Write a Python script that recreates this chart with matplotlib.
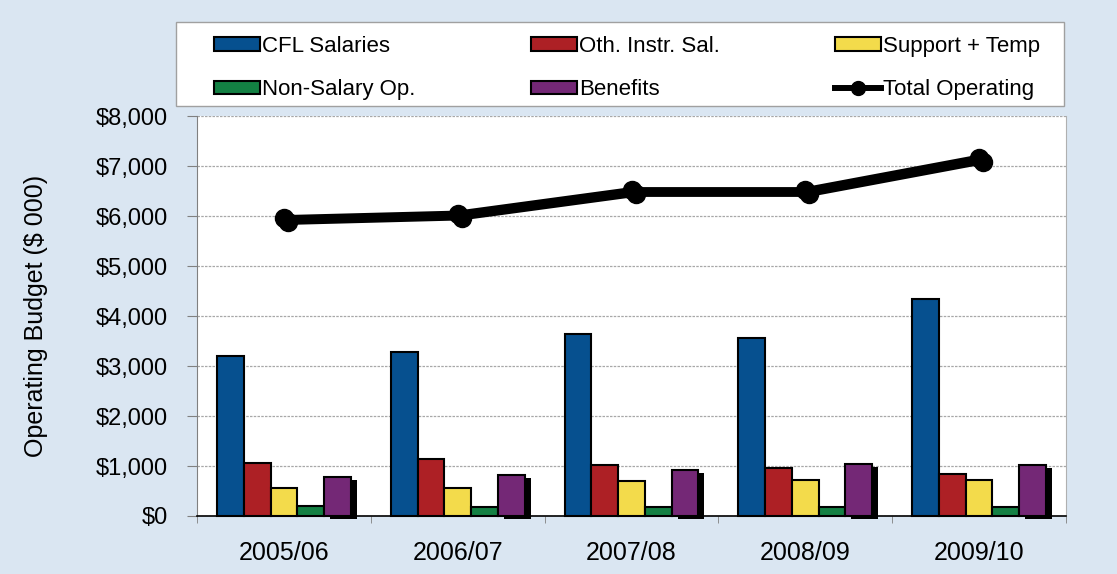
import matplotlib
matplotlib.use('Agg')
import matplotlib.pyplot as plt
import matplotlib.ticker as mtick
import matplotlib.patheffects as pe
import matplotlib.transforms as mtransforms
from matplotlib.patches import Rectangle
from matplotlib.lines import Line2D
import numpy as np

# data ($ 000)
years = ['2005/06', '2006/07', '2007/08', '2008/09', '2009/10']
cfl_salaries = [3200, 3280, 3650, 3570, 4350]
oth_instr_sal = [1070, 1140, 1020, 970, 850]
support_temp = [570, 570, 710, 720, 730]
non_salary_op = [210, 190, 190, 190, 190]
benefits = [790, 830, 930, 1050, 1020]
total_operating = [5960, 6050, 6520, 6520, 7170]

series_names = ['CFL Salaries', 'Oth. Instr. Sal.', 'Support + Temp',
                'Non-Salary Op.', 'Benefits']
series_vals = [cfl_salaries, oth_instr_sal, support_temp, non_salary_op, benefits]
colors = ['#06508F', '#AD2025', '#F3DB4B', '#138043', '#742876']

plt.rcParams['font.family'] = ['Liberation Sans', 'DejaVu Sans']

fig = plt.figure(figsize=(11.17, 5.74), dpi=100)
fig.patch.set_facecolor('#DAE6F2')

ax = fig.add_axes([197/1117, 1-516/574, (1066-197)/1117, 400/574])
ax.set_facecolor('white')

x = np.arange(len(years))
bw = 0.154
# only the last series (Benefits) throws a visible drop shadow
shadow = [pe.SimplePatchShadow(offset=(4.3, -2.2), shadow_rgbFace='black', alpha=1.0),
          pe.Normal()]
for i, (name, vals, c) in enumerate(zip(series_names, series_vals, colors)):
    bars = ax.bar(x + (i - 2) * bw, vals, width=bw, color=c, edgecolor='black',
                  linewidth=1.5, zorder=3 + i * 0.1, clip_on=False, label=name)
    if i == len(series_names) - 1:
        for b in bars:
            b.set_path_effects(shadow)

# total line with an offset black copy as its shadow
shadow_tr = mtransforms.offset_copy(ax.transData, fig=fig, x=4, y=-4, units='dots')
for tr, z in [(shadow_tr, 5.5), (ax.transData, 6)]:
    ax.plot(x, total_operating, color='black', lw=4.2, marker='o', markersize=13,
            zorder=z, clip_on=False, transform=tr)

ax.set_xlim(-0.5, len(years) - 0.5)
ax.set_ylim(0, 8000)
ax.yaxis.set_major_locator(mtick.MultipleLocator(1000))
ax.yaxis.set_major_formatter(mtick.StrMethodFormatter('${x:,.0f}'))
ax.grid(axis='y', color='#A8A8A8', lw=0.9, linestyle=(0, (2, 1)), zorder=0)

ax.set_xticks(x)
ax.set_xticklabels(years)
ax.set_xticks(np.arange(len(years) + 1) - 0.5, minor=True)
ax.tick_params(axis='x', which='major', length=0, pad=18, labelsize=18)
ax.tick_params(axis='x', which='minor', length=5, color='#808080', direction='out')
ax.tick_params(axis='y', length=7, color='#808080', pad=14, labelsize=17)

ax.spines['top'].set_visible(False)
ax.spines['right'].set_color('#B0B0B0')
ax.spines['left'].set_color('#808080')
ax.spines['bottom'].set_color('black')
ax.spines['bottom'].set_linewidth(1.2)

ax.set_ylabel('Operating Budget ($ 000)', fontsize=18)
ax.yaxis.set_label_coords(-0.172, 0.5)

# legend box
fig.patches.append(Rectangle((176/1117, 1-106/574), (1064-176)/1117, 84/574,
                             transform=fig.transFigure, facecolor='white',
                             edgecolor='#A0A0A0', lw=1, zorder=1))

def patch_handle(c):
    return Rectangle((0, 0), 1, 1, facecolor=c, edgecolor='black', lw=1.5)

line_handle = Line2D([], [], color='black', lw=4.3, marker='o', markersize=10)
h = [patch_handle(c) for c in colors]
handles = [h[0], h[3], h[1], h[4], h[2], line_handle]
labels = [series_names[0], series_names[3], series_names[1], series_names[4],
          series_names[2], 'Total Operating']
fig.legend(handles, labels, ncol=3, mode='expand', frameon=False,
           bbox_to_anchor=(214/1117, 1-110/574, (1040-214)/1117, 84/574),
           loc='center', fontsize=16, handlelength=2.07, handleheight=0.55,
           handletextpad=0.1, labelspacing=1.0, borderpad=0, borderaxespad=0)

fig.savefig('out.png', dpi=100, facecolor=fig.get_facecolor())
